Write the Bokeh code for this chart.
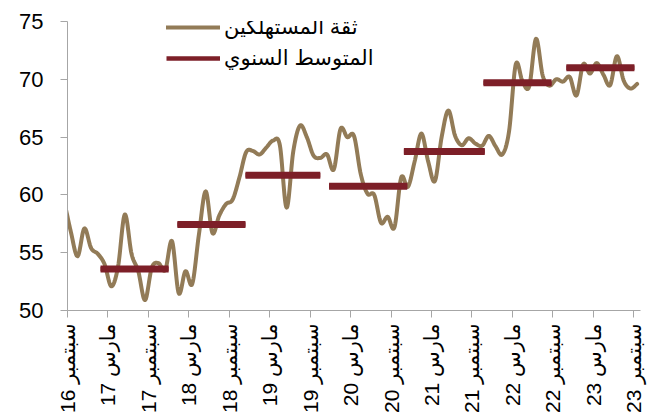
import numpy as np
from bokeh.plotting import figure
from bokeh.models import Range1d, FixedTicker, Legend, LegendItem
from bokeh.embed import file_html
from bokeh.resources import INLINE

# Consumer confidence, monthly, Aug 2016 .. Sep 2023
confidence = [
    59.5, 56.8, 54.7, 57.1, 55.4, 54.9, 54.0, 52.1, 53.8, 58.3,
    54.9, 53.4, 50.9, 53.7, 54.1, 53.5, 56.0, 51.5, 53.4, 52.3,
    56.6, 60.3, 56.7, 58.2, 59.2, 59.6, 61.5, 63.7, 63.8, 63.5,
    64.1, 64.7, 64.3, 58.9, 63.8, 66.0, 65.0, 63.4, 63.2, 63.5,
    62.2, 65.7, 65.0, 65.1, 61.8, 60.1, 60.0, 57.6, 58.1, 57.2,
    61.5, 60.7, 62.9, 65.3, 62.9, 61.2, 65.0, 67.3, 65.1, 64.3,
    64.9, 64.45, 64.25, 65.1, 64.2, 63.5, 65.5, 71.3, 69.8, 69.4,
    73.5, 70.3, 69.45, 70.0, 69.8, 70.2, 68.6, 71.3, 70.5, 71.4,
    70.4, 69.5, 72.0, 69.9, 69.2, 69.6,
]

# Annual averages (months counted from Sep 2016)
avg_values = [53.6, 57.45, 61.7, 60.75, 63.75, 69.7, 71.0]
avg_start = [4.9, 16.3, 26.4, 38.8, 49.9, 61.7, 74.0]
avg_end = [15.0, 26.4, 37.5, 50.4, 61.9, 71.8, 84.1]

tick_months = [0, 6, 12, 18, 24, 30, 36, 42, 48, 54, 60, 66, 72, 78, 84]
tick_labels = [
    "16 سبتمبر", "17 مارس", "17 سبتمبر", "18 مارس", "18 سبتمبر",
    "19 مارس", "19 سبتمبر", "20 مارس", "20 سبتمبر", "21 مارس",
    "21 سبتمبر", "22 مارس", "22 سبتمبر", "23 مارس", "23 سبتمبر",
]
y_ticks = [50, 55, 60, 65, 70, 75]

series_label = "ثقة المستهلكين"
avg_label = "المتوسط السنوي"

LINE_COLOR = "#927B57"
AVG_COLOR = "#7D1F28"
AXIS_COLOR = "#A6A6A6"
FONT = "Liberation Sans, DejaVu Sans"


def smooth(xs, ys, n=16):
    xs = np.asarray(xs, float)
    ys = np.asarray(ys, float)
    px = np.concatenate([[xs[0]], xs, [xs[-1]]])
    py = np.concatenate([[ys[0]], ys, [ys[-1]]])
    t = np.linspace(0, 1, n, endpoint=False)
    outx, outy = [], []
    for i in range(1, len(px) - 2):
        p0x, p1x, p2x, p3x = px[i - 1], px[i], px[i + 1], px[i + 2]
        p0y, p1y, p2y, p3y = py[i - 1], py[i], py[i + 1], py[i + 2]
        c1x = p1x + (p2x - p0x) / 6
        c1y = p1y + (p2y - p0y) / 6
        c2x = p2x - (p3x - p1x) / 6
        c2y = p2y - (p3y - p1y) / 6
        b0 = (1 - t) ** 3
        b1 = 3 * (1 - t) ** 2 * t
        b2 = 3 * (1 - t) * t ** 2
        b3 = t ** 3
        outx.extend(b0 * p1x + b1 * c1x + b2 * c2x + b3 * p2x)
        outy.extend(b0 * p1y + b1 * c1y + b2 * c2y + b3 * p2y)
    outx.append(xs[-1])
    outy.append(ys[-1])
    return outx, outy


x_pos = np.arange(len(confidence)) - 0.5
sx, sy = smooth(x_pos, confidence)

p = figure(
    width=660, height=417,
    x_range=Range1d(0, 85), y_range=Range1d(50, 75),
    output_backend="svg", toolbar_location=None,
    min_border_left=67, min_border_right=20, min_border_top=21, min_border_bottom=107,
)
p.outline_line_color = None
p.xgrid.visible = False
p.ygrid.visible = False
p.background_fill_color = "white"

r_line = p.line(sx, sy, line_color=LINE_COLOR, line_width=4, line_join="round", line_cap="round")
# thinner copy (hidden beneath the bars) used for the legend swatch
r_avg_leg = p.segment(x0=avg_start, y0=avg_values, x1=avg_end, y1=avg_values,
                      line_color=AVG_COLOR, line_width=4.5, line_cap="butt")
r_avg = p.segment(x0=avg_start, y0=avg_values, x1=avg_end, y1=avg_values,
                  line_color=AVG_COLOR, line_width=7, line_cap="butt")

for ax in (p.xaxis[0], p.yaxis[0]):
    ax.axis_line_color = AXIS_COLOR
    ax.major_tick_line_color = AXIS_COLOR
    ax.minor_tick_line_color = None
    ax.major_tick_out = 7
    ax.major_tick_in = 0
    ax.major_label_text_font = FONT
    ax.major_label_text_color = "black"

p.yaxis.ticker = FixedTicker(ticks=y_ticks)
p.yaxis.major_label_text_font_size = "22px"
p.yaxis.major_label_standoff = 17

p.xaxis.ticker = FixedTicker(ticks=tick_months)
p.xaxis.major_label_overrides = {m: lab for m, lab in zip(tick_months, tick_labels)}
p.xaxis.major_label_orientation = np.pi / 2
p.xaxis.major_label_text_font_size = "21px"
p.xaxis.major_label_standoff = 6

legend = Legend(
    items=[LegendItem(label=series_label, renderers=[r_line]),
           LegendItem(label=avg_label, renderers=[r_avg_leg])],
    location=(99, 238),
    border_line_color=None, background_fill_alpha=0,
    glyph_width=54, glyph_height=28, label_height=28, spacing=3,
    padding=0, margin=0, label_standoff=4,
    label_text_font=FONT, label_text_font_size="21px", label_text_color="black",
)
p.add_layout(legend, "center")

open("out.html", "w").write(file_html(p, INLINE))
